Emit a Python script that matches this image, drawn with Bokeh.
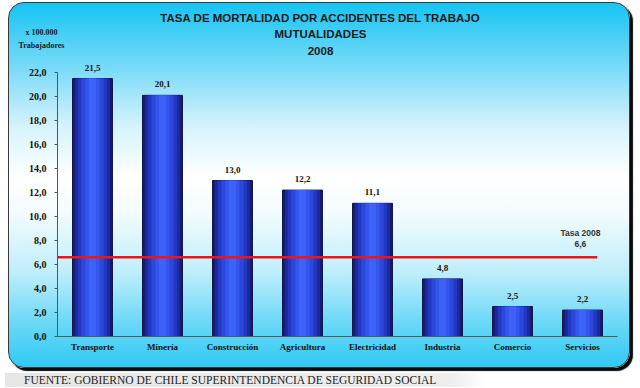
from bokeh.plotting import figure
from bokeh.models import (ColumnDataSource, LabelSet, Label, FixedTicker,
                          CustomJSTickFormatter, Div, Range1d)
from bokeh.layouts import column
from bokeh.embed import file_html
from bokeh.resources import INLINE
from bokeh.core.properties import value

# ---- data ----
sectores = ["Transporte", "Minería", "Construcción", "Agricultura",
            "Electricidad", "Industria", "Comercio", "Servicios"]
tasas = [21.5, 20.1, 13.0, 12.2, 11.1, 4.8, 2.5, 2.2]
tasa_2008 = 6.6
y_ticks = [0, 2, 4, 6, 8, 10, 12, 14, 16, 18, 20, 22]
titulos = ["TASA DE MORTALIDAD POR ACCIDENTES DEL TRABAJO", "MUTUALIDADES", "2008"]
unidad = ["x 100.000", "Trabajadores"]
tasa_txt = ["Tasa 2008", "6,6"]
fuente = "FUENTE: GOBIERNO DE CHILE SUPERINTENDENCIA DE SEGURIDAD SOCIAL"

etiquetas = [f"{v:.1f}".replace(".", ",") for v in tasas]
src = ColumnDataSource(dict(x=sectores, y=tasas, t=etiquetas))

SERIF = "Liberation Serif"
SANS = "Liberation Sans"

# ---- header figure (titles) ----
h = figure(width=620, height=55, x_range=Range1d(0, 620), y_range=Range1d(0, 55),
           output_backend="svg", toolbar_location=None, title=None,
           min_border=0, x_axis_type=None, y_axis_type=None)
h.frame_align = False
h.border_fill_color = None
h.background_fill_color = None
h.outline_line_color = None
h.grid.visible = False
for txt, yy in zip(titulos, [41, 25, 8]):
    h.add_layout(Label(x=311, y=yy, text=txt,
                       text_align="center", text_baseline="middle",
                       text_font=SANS, text_font_style="bold",
                       text_font_size="11.5px", text_color="#1a1a1a"))
for txt, yy in zip(unidad, [26, 13]):
    h.add_layout(Label(x=32, y=yy, text=txt,
                       text_align="center", text_baseline="middle",
                       text_font=SERIF, text_font_style="bold",
                       text_font_size="8px", text_color="#1a1a1a"))

# ---- main chart ----
p = figure(width=620, height=309, x_range=sectores, y_range=Range1d(0, 23.17),
           output_backend="svg", toolbar_location=None, title=None,
           min_border_left=48, min_border_right=12, min_border_top=0, min_border_bottom=31)
p.frame_align = False
p.border_fill_color = None
p.background_fill_color = None
p.outline_line_color = None
p.grid.visible = False

# bars with a cylindrical shading (layered widths)
capas = [(0.57, "#131c76"), (0.50, "#1b299c"), (0.42, "#2338c0"),
         (0.32, "#2b48dc"), (0.20, "#3456ee"), (0.10, "#3c62f8")]
for i, (w, c) in enumerate(capas):
    p.vbar(x="x", top="y", width=w, source=src, fill_color=c,
           line_color="#0b1148" if i == 0 else None, line_width=1)

# red average line
p.segment(x0=[(sectores[0], -0.5)], x1=[(sectores[-1], 0.21)],
          y0=[tasa_2008], y1=[tasa_2008], line_color="#f01414", line_width=2.5)

# value labels
p.add_layout(LabelSet(x="x", y="y", text="t", source=src, y_offset=8,
                      text_align="center", text_baseline="bottom",
                      text_font=value(SERIF), text_font_style="bold",
                      text_font_size="9px", text_color="#111111"))

for txt, dy in zip(tasa_txt, [2.05, 1.15]):
    p.add_layout(Label(x=7.47, y=tasa_2008 + dy, text=txt,
                       text_align="center", text_baseline="middle",
                       text_font=SANS, text_font_style="bold",
                       text_font_size="8.5px", text_color="#333333"))

# axes
p.yaxis.bounds = (0, 22)
p.yaxis.ticker = FixedTicker(ticks=y_ticks)
p.yaxis.formatter = CustomJSTickFormatter(code="return tick.toFixed(1).replace('.', ',');")
p.yaxis.major_label_text_font = SERIF
p.yaxis.major_label_text_font_style = "bold"
p.yaxis.major_label_text_font_size = "10px"
p.yaxis.major_label_text_color = "#111111"
p.yaxis.major_tick_out = 3
p.yaxis.major_tick_in = 0
p.yaxis.minor_tick_out = 0
p.yaxis.minor_tick_in = 0
p.yaxis.major_label_standoff = 8
p.yaxis.axis_line_color = "#555555"
p.yaxis.major_tick_line_color = "#555555"

p.xaxis.major_label_text_font = SERIF
p.xaxis.major_label_text_font_style = "bold"
p.xaxis.major_label_text_font_size = "9px"
p.xaxis.major_label_text_color = "#111111"
p.xaxis.major_tick_out = 0
p.xaxis.major_tick_in = 0
p.xaxis.major_label_standoff = 5
p.xaxis.axis_line_color = "#555555"

panel = column(h, p, spacing=0, styles={
    "margin-left": "8px", "margin-top": "2px",
    "background": "linear-gradient(to bottom, #16c4f4 0%, #6fd8f8 16%, #d6f3fc 34%, #ffffff 48%, "
                  "#f2fbfe 58%, #bfeefb 74%, #6ad8f7 88%, #30c9f4 100%)",
    "border-radius": "16px",
    "border": "1px solid #3a3a3a",
    "box-shadow": "3px 3px 1px #0a0a0a",
})

footer = Div(text=fuente, width=640, height=14,
             styles={"font-family": "'Liberation Serif', serif", "font-size": "11.5px",
                     "color": "#222222", "padding-left": "19px", "line-height": "14px",
                     "margin-top": "5px",
                     "background": "linear-gradient(to right, #e6e6e6 0%, #eeeeee 70%, #ffffff 75%)"})

layout = column(panel, footer, spacing=0)
open("out.html", "w").write(file_html(layout, INLINE))
